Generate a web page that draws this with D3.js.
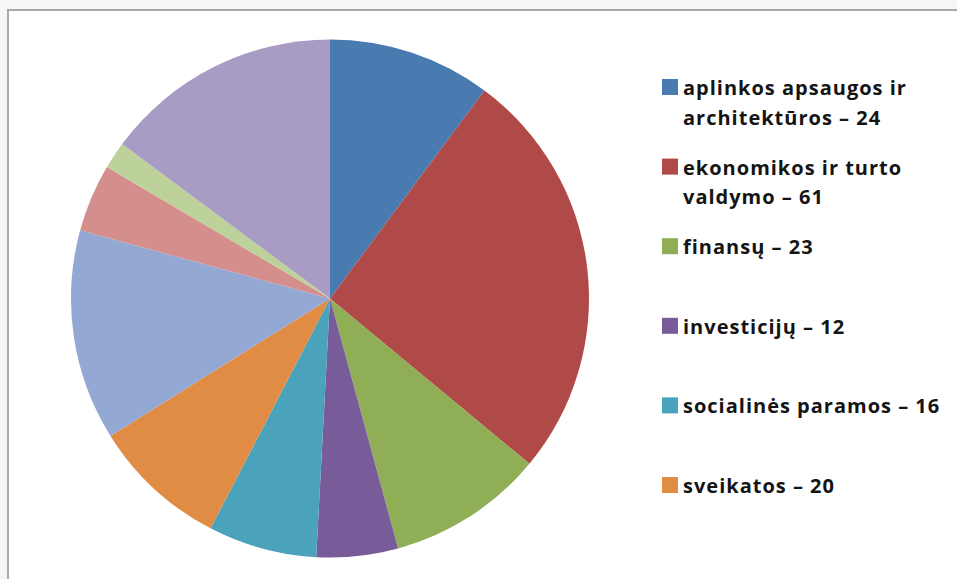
<!DOCTYPE html>
<html>
<head>
<meta charset="utf-8">
<script src="https://cdn.jsdelivr.net/npm/d3@7"></script>
<style>
  html, body { margin: 0; padding: 0; background: #f6f6f6; }
  svg { display: block; }
</style>
</head>
<body>
<svg id="chart" width="957" height="579"></svg>
<script>
// Data
const categories = [
  "aplinkos apsaugos ir architektūros",
  "ekonomikos ir turto valdymo",
  "finansų",
  "investicijų",
  "socialinės paramos",
  "sveikatos",
  "kita 7",
  "kita 8",
  "kita 9",
  "kita 10"
];
const values = [24, 61, 23, 12, 16, 20, 31, 10, 4, 35];
const legendLines = [
  ["aplinkos apsaugos ir", "architektūros – 24"],
  ["ekonomikos ir turto", "valdymo – 61"],
  ["finansų – 23"],
  ["investicijų – 12"],
  ["socialinės paramos – 16"],
  ["sveikatos – 20"]
];
const colors = ["#4a7bb0", "#b04a48", "#8fae56", "#785c9a", "#4aa3bb", "#e08c44",
                "#94a8d4", "#d48f8c", "#bdd19a", "#a89cc4"];

const svg = d3.select("#chart");

// chart area frame
svg.append("rect")
  .attr("x", 8).attr("y", 10)
  .attr("width", 1000).attr("height", 1000)
  .attr("fill", "#ffffff")
  .attr("stroke", "#a8a8a8")
  .attr("stroke-width", 2);

const cx = 330, cy = 298.5, r = 259;
const data = categories.map((c, i) => ({ name: c, value: values[i], idx: i }));

const pie = d3.pie().value(d => d.value).sort(null);
const arc = d3.arc().innerRadius(0).outerRadius(r);
const color = d3.scaleOrdinal().domain(categories).range(colors);

const g = svg.append("g").attr("transform", `translate(${cx},${cy})`);
g.selectAll("path")
  .data(pie(data))
  .join("path")
  .attr("d", arc)
  .attr("fill", d => color(d.data.name));

// legend
const legendX = 662, legendY0 = 87, legendStep = 79.6, lineH = 29.5, box = 16;
const lg = svg.append("g");
legendLines.forEach((lines, i) => {
  const y = legendY0 + i * legendStep;
  lg.append("rect")
    .attr("x", legendX).attr("y", y - box / 2)
    .attr("width", box).attr("height", box)
    .attr("fill", color(categories[i]));
  const t = lg.append("text")
    .attr("x", legendX + box + 5)
    .attr("y", y)
    .attr("dominant-baseline", "central")
    .attr("font-family", "'Open Sans', sans-serif")
    .attr("font-weight", "bold")
    .attr("font-size", 20)
    .attr("letter-spacing", 1)
    .attr("fill", "#141414");
  lines.forEach((ln, j) => {
    t.append("tspan")
      .attr("x", legendX + box + 5)
      .attr("y", y + j * lineH)
      .text(ln);
  });
});
</script>
</body>
</html>
